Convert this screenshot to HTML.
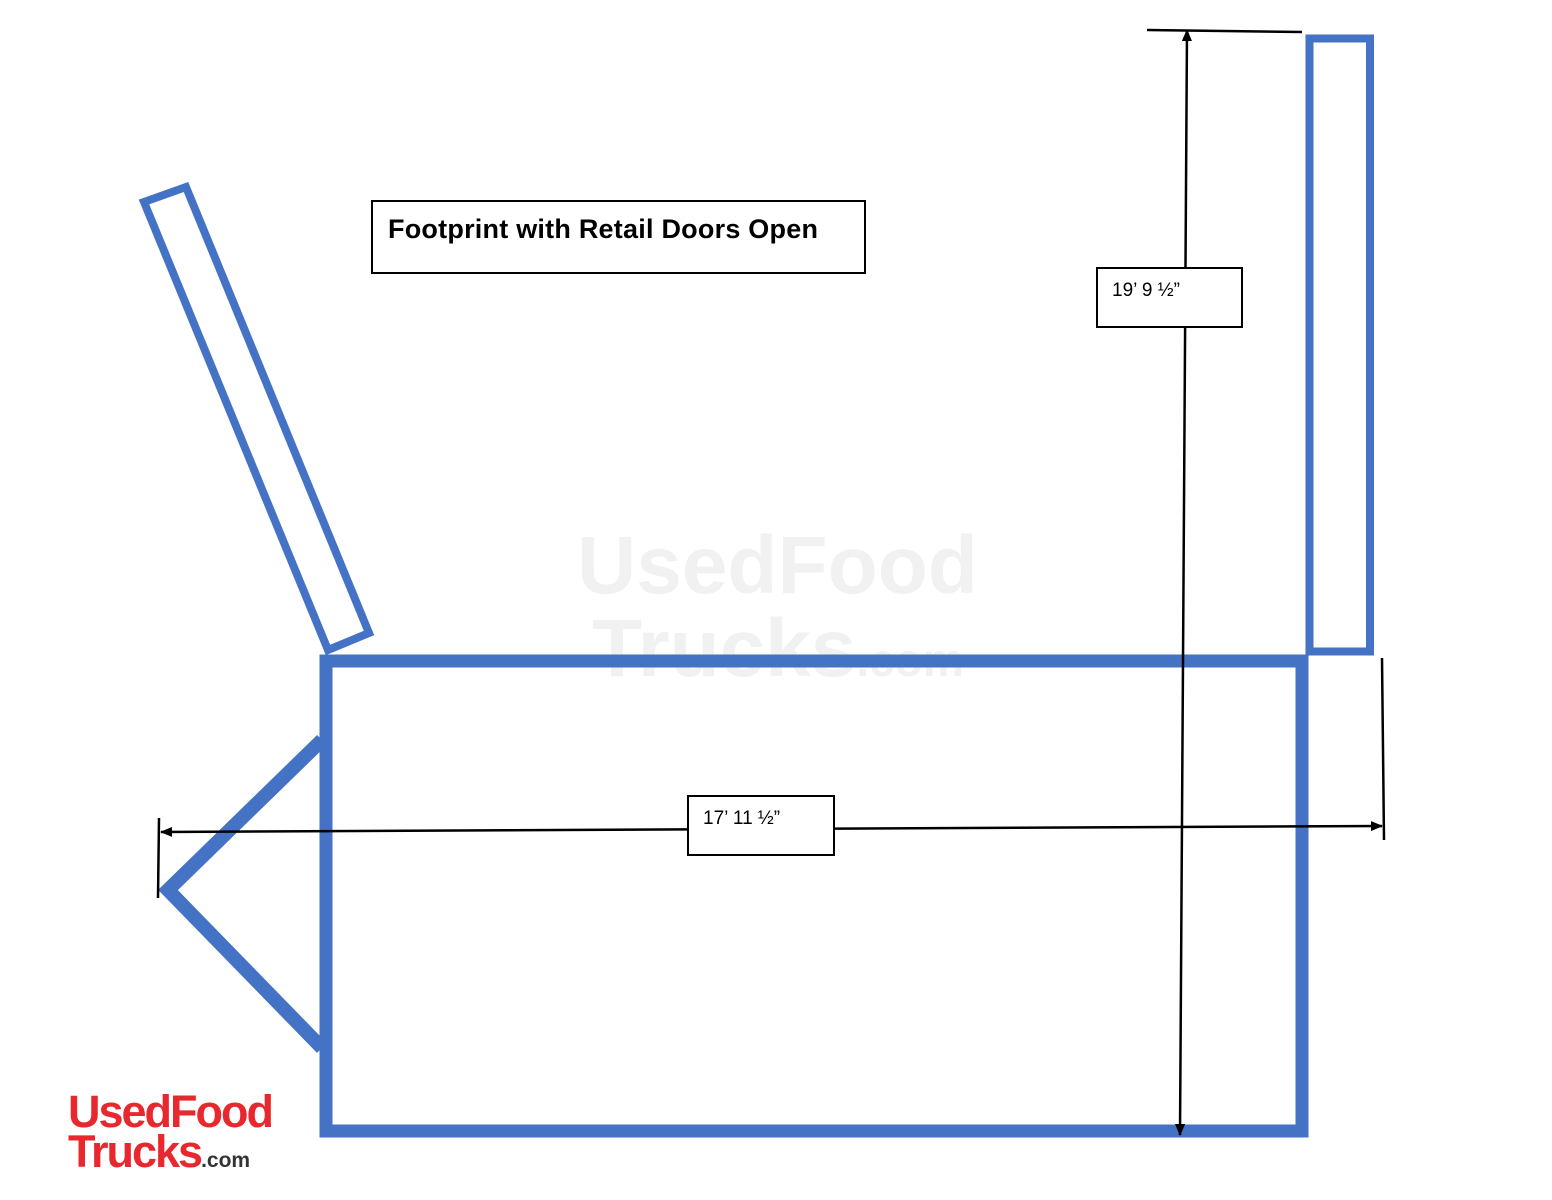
<!DOCTYPE html>
<html><head><meta charset="utf-8"><style>
html,body{margin:0;padding:0;background:#fff;}
svg{display:block;}
</style></head><body>
<svg width="1552" height="1200" viewBox="0 0 1552 1200" xmlns="http://www.w3.org/2000/svg">
<defs>
<marker id="ae" markerWidth="12" markerHeight="10" refX="11" refY="5" orient="auto" markerUnits="userSpaceOnUse">
<path d="M0,0 L12,5 L0,10 z" fill="#000"/></marker>
<marker id="as" markerWidth="12" markerHeight="10" refX="1" refY="5" orient="auto" markerUnits="userSpaceOnUse">
<path d="M12,0 L0,5 L12,10 z" fill="#000"/></marker>
</defs>
<!-- watermark -->
<text x="577" y="593" font-family="Liberation Sans, sans-serif" font-weight="bold" font-size="82" fill="#f1f1f1">UsedFood</text>
<text x="592" y="676" font-family="Liberation Sans, sans-serif" font-weight="bold" font-size="82" fill="#f1f1f1">Trucks<tspan font-size="46">.com</tspan></text>
<!-- main body -->
<rect x="326" y="661" width="976" height="470" fill="none" stroke="#4472C4" stroke-width="13"/>
<!-- right door -->
<rect x="1309.5" y="38.5" width="60.5" height="613" fill="none" stroke="#4472C4" stroke-width="8"/>
<!-- left tilted door -->
<polygon points="144,202 186,187 369,633 328,650" fill="#fff" stroke="#4472C4" stroke-width="8"/>
<!-- triangle -->
<polyline points="322,740 168,890 322,1048" fill="none" stroke="#4472C4" stroke-width="14"/>
<!-- vertical dimension -->
<line x1="1147" y1="30" x2="1302" y2="32" stroke="#000" stroke-width="2.5"/>
<line x1="1187" y1="30" x2="1180" y2="1135" stroke="#000" stroke-width="2.5" marker-start="url(#as)" marker-end="url(#ae)"/>
<!-- horizontal dimension -->
<line x1="159" y1="818" x2="158" y2="898" stroke="#000" stroke-width="2.5"/>
<line x1="1382" y1="658" x2="1384" y2="840" stroke="#000" stroke-width="2.5"/>
<line x1="161" y1="832" x2="1382" y2="826" stroke="#000" stroke-width="2.5" marker-start="url(#as)" marker-end="url(#ae)"/>
<!-- labels -->
<rect x="1097" y="268" width="145" height="59" fill="#fff" stroke="#000" stroke-width="2"/>
<text x="1112" y="296" font-family="Liberation Sans, sans-serif" font-size="19" fill="#000">19’ 9 ½”</text>
<rect x="688" y="796" width="146" height="59" fill="#fff" stroke="#000" stroke-width="2"/>
<text x="703" y="824" font-family="Liberation Sans, sans-serif" font-size="19" fill="#000">17’ 11 ½”</text>
<rect x="372" y="201" width="493" height="72" fill="#fff" stroke="#000" stroke-width="2"/>
<text x="388" y="238" font-family="Liberation Sans, sans-serif" font-weight="bold" font-size="27" fill="#000" textLength="430" lengthAdjust="spacing">Footprint with Retail Doors Open</text>
<!-- logo -->
<text x="68" y="1127" font-family="Liberation Sans, sans-serif" font-weight="bold" font-size="45" fill="#e8282e" letter-spacing="-2">UsedFood</text>
<text x="68" y="1167" font-family="Liberation Sans, sans-serif" font-weight="bold" font-size="45" fill="#e8282e" letter-spacing="-2">Trucks<tspan font-size="21" fill="#333" letter-spacing="0">.com</tspan></text>
</svg>
</body></html>
